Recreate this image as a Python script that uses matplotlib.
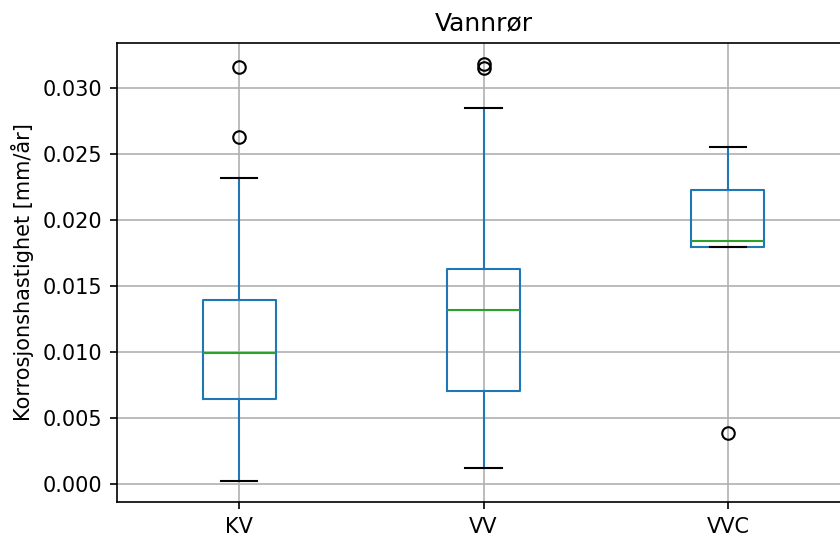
import matplotlib
matplotlib.use("Agg")
import matplotlib.pyplot as plt

# box statistics (mm/år)
groups = ["KV", "VV", "VVC"]
whislo = [0.00023, 0.00121, 0.01798]
q1 = [0.00644, 0.00705, 0.01798]
med = [0.00992, 0.01318, 0.01843]
q3 = [0.01394, 0.01629, 0.02225]
whishi = [0.02318, 0.02848, 0.02551]
fliers = [[0.03159, 0.02629], [0.03182, 0.03152], [0.00384]]

stats = []
for i, name in enumerate(groups):
    stats.append({"label": name, "whislo": whislo[i], "q1": q1[i], "med": med[i],
                  "q3": q3[i], "whishi": whishi[i], "fliers": fliers[i]})

fig = plt.figure(figsize=(5.6, 538 / 150), dpi=150)
ax = fig.add_axes([117 / 840, 1 - 502 / 538, 733 / 840, 459 / 538])

ax.bxp(stats,
       boxprops=dict(color="C0"),
       whiskerprops=dict(color="C0"),
       medianprops=dict(color="C2"),
       capprops=dict(color="k"),
       flierprops=dict(markeredgecolor="k"))

ax.grid(True)
ax.set_xlim(0.5, 3.5)
ax.set_ylim(-0.001364, 0.03341)
ax.set_title("Vannrør", fontsize=12)
ax.set_ylabel("Korrosjonshastighet [mm/år]")

fig.savefig("out.png", dpi=150)
